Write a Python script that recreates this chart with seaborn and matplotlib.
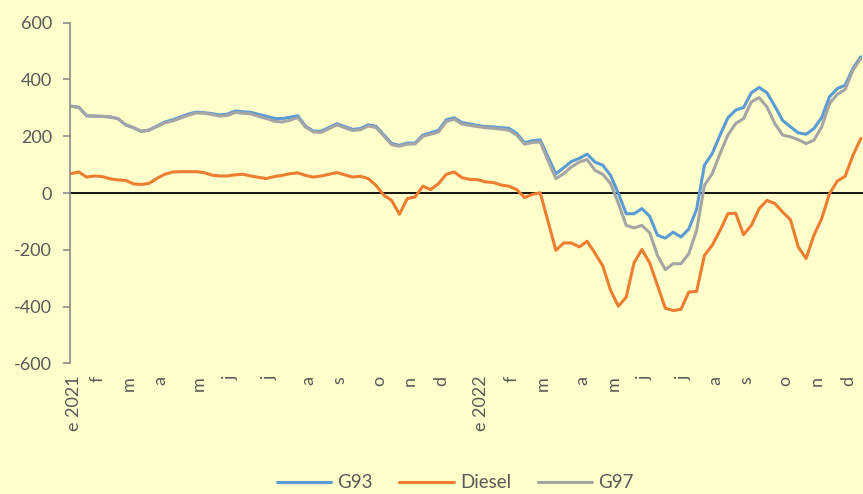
import matplotlib
matplotlib.use("Agg")
import matplotlib.pyplot as plt
import seaborn as sns
import pandas as pd

# ---- data (weekly, Jan 2021 - Dec 2022) ----
g93 = [306, 302, 272, 271, 270, 268, 262, 240, 230, 217,
       222, 236, 250, 258, 268, 278, 285, 283, 280, 275,
       278, 289, 286, 284, 277, 270, 263, 262, 267, 272,
       235, 218, 218, 231, 244, 234, 224, 227, 240, 235,
       205, 174, 168, 176, 176, 204, 212, 221, 258, 265,
       248, 243, 238, 234, 233, 230, 228, 210, 177, 184,
       187, 127, 67, 89, 111, 122, 137, 109, 98, 62,
       -2, -73, -73, -55, -82, -149, -159, -138, -155, -127,
       -58, 98, 139, 204, 265, 292, 301, 353, 372, 353,
       306, 256, 233, 212, 207, 227, 266, 339, 368, 380,
       439, 480]
diesel = [68, 74, 56, 60, 58, 50, 46, 44, 32, 30,
          34, 52, 66, 74, 75, 75, 75, 72, 63, 60,
          60, 64, 66, 60, 55, 51, 58, 62, 68, 71,
          62, 56, 60, 66, 72, 64, 56, 59, 51, 27,
          -8, -26, -75, -20, -14, 24, 12, 33, 66, 74,
          54, 48, 47, 39, 37, 28, 24, 12, -16, -5,
          1, -100, -202, -176, -176, -190, -170, -212, -257, -343,
          -399, -367, -246, -199, -246, -326, -406, -414, -410, -349,
          -347, -220, -184, -132, -73, -71, -147, -114, -55, -26,
          -37, -67, -94, -190, -231, -149, -90, -2, 42, 59,
          133, 192]
g97 = [306, 302, 272, 271, 270, 268, 262, 240, 230, 217,
       222, 234, 247, 254, 264, 274, 282, 281, 277, 271,
       273, 284, 281, 279, 270, 262, 253, 250, 256, 266,
       232, 215, 214, 227, 240, 230, 220, 223, 236, 231,
       201, 170, 165, 172, 173, 200, 207, 215, 252, 260,
       243, 238, 234, 230, 228, 225, 221, 204, 172, 178,
       180, 115, 51, 68, 92, 109, 118, 80, 66, 33,
       -37, -114, -123, -114, -140, -220, -270, -249, -249, -214,
       -132, 27, 68, 139, 204, 245, 262, 321, 336, 303,
       245, 204, 198, 188, 174, 186, 233, 315, 348, 365,
       433, 474]

tick_pos = [0, 3, 7, 11, 16, 20, 25, 30, 34, 39, 43, 47,
            52, 56, 60, 65, 69, 73, 78, 82, 86, 91, 95, 99]
tick_labels = ["e 2021", "f", "m", "a", "m", "j", "j", "a", "s", "o", "n", "d",
               "e 2022", "f", "m", "a", "m", "j", "j", "a", "s", "o", "n", "d"]
y_ticks = [-600, -400, -200, 0, 200, 400, 600]

series_names = ["G93", "Diesel", "G97"]
colors = {"G93": "#5B9BD5", "Diesel": "#ED7D31", "G97": "#A5A5A5"}

# ---- build long table ----
rows = []
for name, vals in zip(series_names, [g93, diesel, g97]):
    for i, v in enumerate(vals):
        rows.append({"week": i, "value": v, "series": name})
df = pd.DataFrame(rows)

BG = "#FFFFCC"
TXT = "#595959"
LABEL_NUDGE = 0.38  # rotated labels sit slightly right of their week

sns.set_style("white")
plt.rcParams["font.family"] = ["Lato", "DejaVu Sans"]

fig = plt.figure(figsize=(8.63, 4.94), dpi=100, facecolor=BG)
W, H = 863, 494
left_px, right_px, top_px, bot_px = 70, 863, 22.7, 363.3
ax = fig.add_axes([left_px / W, 1 - bot_px / H, (right_px - left_px) / W,
                   (bot_px - top_px) / H])
ax.set_facecolor(BG)

ax.axhline(0, color="black", lw=1.3, zorder=1.5)

sns.lineplot(data=df, x="week", y="value", hue="series",
             hue_order=series_names, palette=colors, linewidth=2.2,
             ax=ax, zorder=2)

ax.set_xlim(-0.13, 101.28)
ax.set_ylim(-600, 600)
ax.set_yticks(y_ticks)
ax.set_yticklabels([str(v) for v in y_ticks])
ax.set_xticks([p + LABEL_NUDGE for p in tick_pos])
ax.set_xticklabels(tick_labels, rotation=90)
ax.set_xlabel("")
ax.set_ylabel("")

for s in ["top", "right", "bottom"]:
    ax.spines[s].set_visible(False)
ax.spines["left"].set_color("#8C8C8C")
ax.spines["left"].set_linewidth(1.2)

ax.tick_params(axis="y", which="both", left=True, length=5, width=1.2,
               color="#8C8C8C", labelsize=13, labelcolor=TXT, pad=8)
ax.tick_params(axis="x", which="both", bottom=False, length=0,
               labelsize=13, labelcolor=TXT, pad=9)

sns.move_legend(ax, "center", bbox_to_anchor=(0.486, -0.351), ncol=3,
                frameon=False, title=None, fontsize=13.5,
                handlelength=2.9, handletextpad=0.35, columnspacing=1.4)
for t in ax.get_legend().get_texts():
    t.set_color(TXT)

fig.savefig("out.png", dpi=100, facecolor=BG)
